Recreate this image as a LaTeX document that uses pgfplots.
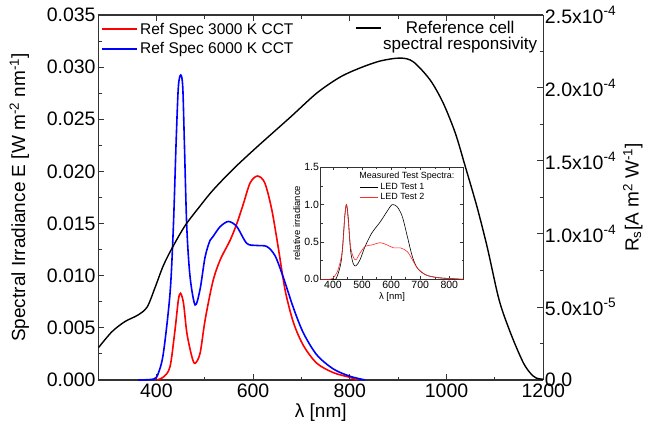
\documentclass[border=0pt]{standalone}
\usepackage{fontspec}
\setmainfont{Liberation Sans}
\usepackage{pgfplots}
\pgfplotsset{compat=1.18}
\definecolor{axgray}{RGB}{51,51,51}
\definecolor{myred}{RGB}{255,0,0}
\definecolor{myblue}{RGB}{0,0,255}
\definecolor{insred}{RGB}{255,40,40}

\pgfplotsset{
  mainframe/.style={
    scale only axis, width=445pt, height=365pt,
    xmin=280, xmax=1200,
    scaled x ticks=false, scaled y ticks=false,
    axis line style={axgray, line width=1.2pt},
    tick align=inside,
    major tick length=6pt, minor tick length=3.5pt,
    tick style={axgray, line width=1pt},
    tick label style={font=\fontsize{19.5}{21}\selectfont},
    label style={font=\fontsize{19}{21}\selectfont},
  }
}

\begin{document}
\begin{tikzpicture}

% left axis: reference spectra
\begin{axis}[mainframe, name=main,
  ymin=0, ymax=0.035,
  axis y line*=left,
  xtick={400,600,800,1000,1200},
  xticklabels={400,600,800,1000,1200},
  minor x tick num=1,
  ytick={0,0.005,0.01,0.015,0.02,0.025,0.03,0.035},
  yticklabels={0.000,0.005,0.010,0.015,0.020,0.025,0.030,0.035},
  minor y tick num=1,
  yticklabel style={inner sep=2.5pt},
  xlabel={λ [nm]},
  xlabel style={at={(axis description cs:0.5,0)}, anchor=center, yshift=-33pt},
  ylabel={Spectral Irradiance E [W m\textsuperscript{-2} nm\textsuperscript{-1}]},
  ylabel style={at={(axis description cs:-0.1775,0.5)}, anchor=center},
  legend style={at={(0.0,0.99)}, anchor=north west, draw=none, fill=none,
    font=\fontsize{15.5}{18}\selectfont, row sep=3pt},
  legend image code/.code={\draw[#1] (0pt,0pt) -- (35pt,0pt);},
  legend cell align=left,
]
\addplot[myred, line width=1.6pt, smooth] coordinates {
(401,0) (415,0.0003) (428.3,0.00128) (438.6,0.0048) (445.5,0.00767)
(450.1,0.00831) (456.2,0.00735) (463.2,0.00448) (473.5,0.00223)
(480.1,0.0016) (490.4,0.00256) (500.8,0.00575) (516.6,0.0094)
(531.8,0.0115) (552.5,0.0134) (566.4,0.0150) (580,0.0169)
(593.9,0.0189) (609,0.01956) (624.2,0.0189) (638.8,0.0163)
(652.4,0.0126) (666.3,0.0086) (683.5,0.0055) (704.1,0.0033)
(731.9,0.0016) (766.2,0.0007) (800.8,0.00025) (815,0)
};
\addlegendentry{Ref Spec 3000 K CCT}
\addplot[myblue, line width=1.6pt, smooth] coordinates {
(363,0) (395,0.0001) (404,0.00064) (414.5,0.00256) (428.3,0.00831)
(435.2,0.0147) (440.8,0.0227) (445.5,0.0281) (450.5,0.02925)
(454.6,0.0281) (458,0.0227) (462.9,0.0147) (469.7,0.0099)
(480.1,0.0072) (490.4,0.0087) (500.8,0.0118) (511.1,0.0134)
(517.9,0.0138) (531.8,0.0147) (549,0.0152) (566.4,0.0147)
(587,0.0131) (607.7,0.0129) (628.4,0.0128) (645.6,0.0119)
(662.8,0.0098) (683.5,0.0069) (704.1,0.0045) (731.9,0.0024)
(766.2,0.00105) (800.8,0.00035) (832,0)
};
\addlegendentry{Ref Spec 6000 K CCT}
\end{axis}

% right axis: reference cell responsivity (values in 1e-4 A m^2 W^-1)
\begin{axis}[mainframe,
  ymin=0, ymax=2.5,
  axis y line*=right, axis x line=none,
  ytick={0,0.5,1,1.5,2,2.5},
  yticklabels={0.0,{5.0x10\textsuperscript{-5}},{1.0x10\textsuperscript{-4}},
    {1.5x10\textsuperscript{-4}},{2.0x10\textsuperscript{-4}},{2.5x10\textsuperscript{-4}}},
  minor y tick num=1,
  yticklabel style={inner sep=1.5pt},
  ylabel={R\textsubscript{s}[A m\textsuperscript{2} W\textsuperscript{-1}]},
  ylabel style={at={(axis description cs:1.201,0.5)}, anchor=center},
  legend style={at={(0.998,0.995)}, anchor=north east, draw=none, fill=none,
    font=\fontsize{17}{19}\selectfont, row sep=-2pt},
  legend image code/.code={\draw[#1] (0pt,0pt) -- (25pt,0pt);},
  legend cell align=center,
]
\addplot[black, line width=1.4pt, smooth] coordinates {
(280,0.22) (308,0.33) (335,0.40) (362,0.445) (381,0.50) (397,0.63)
(414,0.78) (432,0.90) (459,1.055) (490,1.19) (517,1.30) (559,1.445)
(608,1.596) (677,1.80) (732,1.966) (780,2.075) (821,2.137) (863,2.185)
(904,2.205) (931,2.18) (966,2.055) (993,1.897) (1018,1.692)
(1039,1.459) (1063,1.185) (1084,0.911) (1105,0.596) (1117,0.459)
(1138,0.274) (1159,0.116) (1173,0.048) (1185,0.014) (1200,0.005)
};
\addlegendentry{Reference cell}
\addlegendimage{empty legend}
\addlegendentry{spectral responsivity}
\end{axis}

% inset: measured test spectra
\begin{axis}[at={(222.4pt,100.7pt)}, anchor=south west,
  scale only axis, width=142.6pt, height=112pt,
  xmin=358, xmax=848, ymin=0, ymax=1.5,
  scaled x ticks=false, scaled y ticks=false,
  axis background/.style={fill=white},
  axis line style={axgray, line width=0.6pt},
  tick align=inside,
  major tick length=3pt, minor tick length=1.8pt,
  tick style={axgray, line width=0.5pt},
  xtick={400,500,600,700,800},
  xticklabels={400,500,600,700,800},
  ytick={0,0.5,1,1.5},
  yticklabels={0.0,0.5,1.0,1.5},
  minor x tick num=1, minor y tick num=1,
  tick label style={font=\fontsize{10.5}{12}\selectfont, inner sep=1.5pt},
  label style={font=\fontsize{9.5}{11}\selectfont},
  xlabel={λ [nm]},
  xlabel style={at={(axis description cs:0.5,0)}, anchor=center, yshift=-17.5pt},
  ylabel={relative irradiance},
  ylabel style={at={(axis description cs:-0.168,0.5)}, anchor=center},
  legend style={at={(0.265,0.885)}, anchor=north west, draw=none, fill=none,
    font=\fontsize{9}{10.5}\selectfont, row sep=-2pt, inner sep=1pt},
  legend image code/.code={\draw[#1] (0pt,0pt) -- (18pt,0pt);},
  legend cell align=left,
]
\addplot[black, line width=0.6pt, smooth] coordinates {
(358,0) (400,0) (411.6,0.013) (429.1,0.26) (440.7,0.84) (446.5,1.0)
(452.3,0.84) (460.5,0.39) (469.8,0.21) (479.1,0.18) (493,0.26)
(510.5,0.44) (533.7,0.62) (562.8,0.77) (586.1,0.91) (603.5,1.0)
(621,0.97) (638.4,0.84) (655.9,0.57) (673.3,0.30) (690.8,0.147)
(719.8,0.058) (760.5,0.022) (807,0.009) (848,0)
};
\addlegendentry{LED Test 1}
\addplot[insred, line width=0.6pt, smooth] coordinates {
(358,0) (390,0) (400,0.013) (417.4,0.125) (432.6,0.39) (440.7,0.84)
(446.5,1.0) (453.5,0.75) (460.5,0.44) (469.8,0.30) (479.1,0.26)
(493,0.35) (510.5,0.44) (533.7,0.46) (562.8,0.49) (586.1,0.46)
(609.3,0.42) (632.6,0.42) (655.9,0.37) (673.3,0.26) (690.8,0.147)
(719.8,0.058) (760.5,0.022) (807,0.009) (848,0)
};
\addlegendentry{LED Test 2}
\node[anchor=west, font=\fontsize{9}{10.5}\selectfont, inner sep=0pt]
  at (axis description cs:0.27,0.922) {Measured Test Spectra:};
\end{axis}

\pgfresetboundingbox
\path[use as bounding box] (-98.3pt,-59pt) rectangle (546.7pt,380pt);
\end{tikzpicture}
\end{document}
